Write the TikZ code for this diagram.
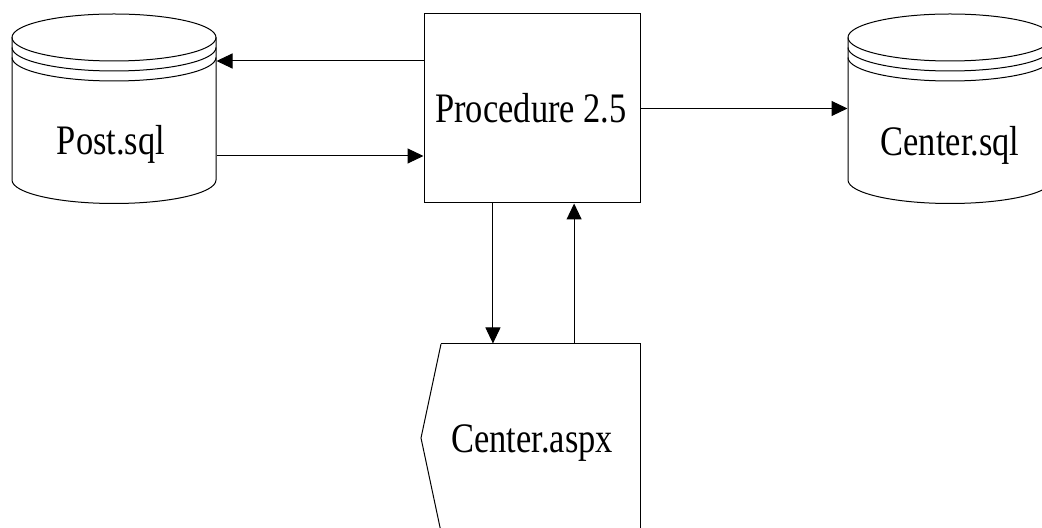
\documentclass[tikz,border=0pt]{standalone}
\usepackage{fontspec}
\setmainfont{Liberation Serif}[FakeStretch=0.82]
\usetikzlibrary{calc,arrows.meta}

\tikzset{
  lbl/.style={inner sep=0pt, anchor=base, font=\fontsize{21}{24}\selectfont},
  arr/.style={line width=0.5pt, -{Triangle[length=8pt,width=7.5pt]}},
}

\begin{document}
\begin{tikzpicture}[x=0.5pt,y=0.5pt,yscale=-1,xscale=1,line width=0.5pt]
\useasboundingbox (0,0) rectangle (1042,528);
\clip (0,0) rectangle (1042,528);

%Flowchart: Process [id:proc]
\node [draw, minimum width=108pt, minimum height=94.5pt, inner sep=0pt] (proc) at (532,108.5) {};
%Shape: Can [id:post]
\draw (12,37.5) -- (12,180) arc (180:0:102 and 23.5) -- (216,37.5) ;
\draw (114,37.5) ellipse (102 and 23.5) ;
\draw (12,47.5) arc (180:0:102 and 23.5) ;
\draw (12,57.5) arc (180:0:102 and 23.5) ;
\node [minimum width=102pt, minimum height=94.5pt, inner sep=0pt] (post) at (114,108.5) {};
%Shape: Can [id:center]
\draw (848,37.5) -- (848,180) arc (180:0:102 and 23.5) -- (1052,37.5) ;
\draw (950,37.5) ellipse (102 and 23.5) ;
\draw (848,47.5) arc (180:0:102 and 23.5) ;
\draw (848,57.5) arc (180:0:102 and 23.5) ;
\node [minimum width=102pt, minimum height=94.5pt, inner sep=0pt] (csql) at (950,108.5) {};
%Flowchart: Display [id:aspx]
\draw (441,344) -- (640,344) -- (640,540) ;
\draw (441,344) -- (421,438) -- (441,532) ;
\node [minimum width=99.5pt, minimum height=100pt, inner sep=0pt] (aspx) at (540.5,444) {};

% Text Node
\node [lbl] (tproc) at (531,123) {Procedure 2.5};
% Text Node
\node [lbl] (tpost) at (111,155) {Post.sql};
% Text Node
\node [lbl] (tcsql) at (950,156) {Center.sql};
% Text Node
\node [lbl] (taspx) at (532,452) {Center.aspx};

%Straight Lines [id:a1]
\coordinate (p1) at ($(proc.north west)!0.25!(proc.south west)$);
\draw [arr] (p1) -- (p1 -| post.east) ;
%Straight Lines [id:a2]
\coordinate (p2) at ($(proc.north west)!0.75!(proc.south west)$);
\draw [arr] (p2 -| post.east) -- (p2) ;
%Straight Lines [id:a3]
\draw [arr] (proc.east) -- (proc.east -| csql.west) ;
%Straight Lines [id:a4]
\coordinate (p4) at ($(proc.south west)!0.32!(proc.south east)$);
\draw [arr] (p4) -- (p4 |- aspx.north) ;
%Straight Lines [id:a5]
\coordinate (p5) at ($(proc.south west)!0.694!(proc.south east)$);
\draw [arr] (p5 |- aspx.north) -- (p5) ;
\end{tikzpicture}
\end{document}
